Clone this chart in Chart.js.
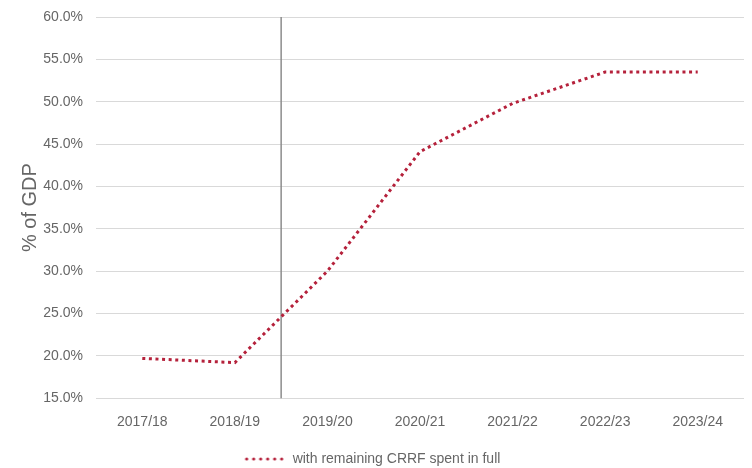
<!DOCTYPE html>
<html>
<head>
<meta charset="utf-8">
<script src="https://cdn.jsdelivr.net/npm/chart.js@4"></script>
<style>
  html, body { margin: 0; padding: 0; background: #fff; }
  #wrap { width: 752px; height: 468px; }
</style>
</head>
<body>
<div id="wrap"><canvas id="debtChart"></canvas></div>
<script>
// Chart data
const years = ['2017/18', '2018/19', '2019/20', '2020/21', '2021/22', '2022/23', '2023/24'];
const crrfSpent = [19.7, 19.2, 30.0, 44.1, 49.8, 53.5, 53.5];
const seriesLabel = 'with remaining CRRF spent in full';
const dividerAfter = '2018/19';

const yMin = 15;
const yMax = 60;
const yStep = 5;

const lineColor = '#b5213b';

// Small dotted swatch for the legend
function dottedSwatch() {
    const c = document.createElement('canvas');
    c.width = 42;
    c.height = 4;
    const g = c.getContext('2d');
    g.fillStyle = lineColor;
    for (let i = 0; i < 6; i++) {
        g.beginPath();
        g.arc(3 + i * 7, 2, 1.6, 0, Math.PI * 2);
        g.fill();
    }
    return c;
}

// Draws the grey vertical divider between two years
const dividerPlugin = {
    id: 'divider',
    beforeDatasetsDraw(chart) {
        const { ctx, chartArea, scales } = chart;
        const x = scales.x.getPixelForValue(years.indexOf(dividerAfter) + 0.5);
        ctx.save();
        ctx.strokeStyle = '#8c8c8c';
        ctx.lineWidth = 1.5;
        ctx.beginPath();
        ctx.moveTo(x, chartArea.top);
        ctx.lineTo(x, chartArea.bottom);
        ctx.stroke();
        ctx.restore();
    }
};

const ctx = document.getElementById('debtChart');
new Chart(ctx, {
    type: 'line',
    data: {
        labels: years,
        datasets: [{
            label: seriesLabel,
            data: crrfSpent,
            borderColor: lineColor,
            backgroundColor: lineColor,
            borderWidth: 3,
            borderDash: [3, 3.6],
            pointRadius: 0,
            tension: 0
        }]
    },
    options: {
        responsive: true,
        maintainAspectRatio: false,
        animation: false,
        devicePixelRatio: 1,
        layout: {
            padding: { top: 17, right: 8, left: 0, bottom: -8 }
        },
        plugins: {
            legend: {
                position: 'bottom',
                labels: {
                    usePointStyle: true,
                    pointStyle: dottedSwatch(),
                    pointStyleWidth: 42,
                    color: '#666',
                    font: { family: 'Liberation Sans', size: 14 },
                    padding: 0
                }
            },
            tooltip: { enabled: false }
        },
        scales: {
            x: {
                offset: true,
                afterFit(scale) { scale.height += 13; },
                grid: { display: false },
                border: { display: false },
                ticks: {
                    color: '#666',
                    font: { family: 'Liberation Sans', size: 14 },
                    padding: 8,
                    maxRotation: 0
                }
            },
            y: {
                min: yMin,
                max: yMax,
                afterFit(scale) {
                    scale.width = 96;
                    scale.paddingTop = 0;
                    scale.paddingBottom = 0;
                },
                grid: { color: '#d9d9d9', lineWidth: 1, drawTicks: false },
                border: { display: false },
                ticks: {
                    stepSize: yStep,
                    color: '#666',
                    font: { family: 'Liberation Sans', size: 14 },
                    padding: 13,
                    callback: v => v.toFixed(1) + '%'
                },
                title: {
                    display: true,
                    text: '% of GDP',
                    color: '#666',
                    font: { family: 'Liberation Sans', size: 20 },
                    padding: { top: 18, bottom: 0 }
                }
            }
        }
    },
    plugins: [dividerPlugin]
});
</script>
</body>
</html>
